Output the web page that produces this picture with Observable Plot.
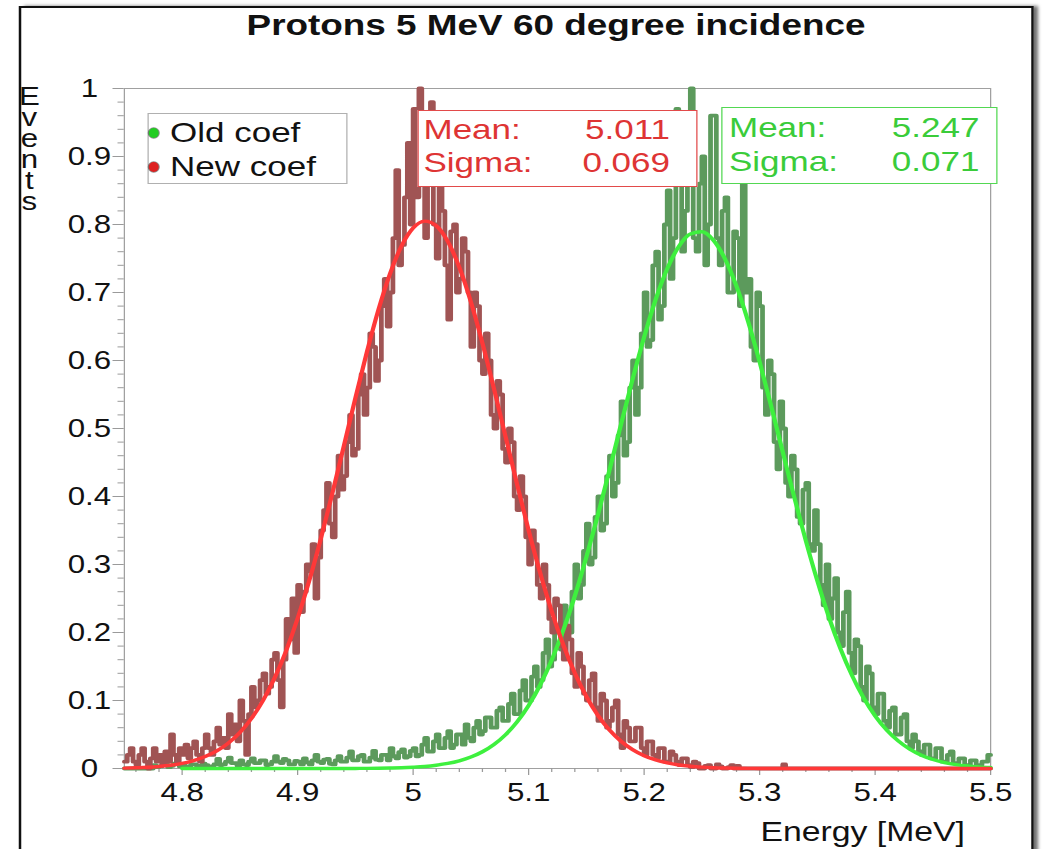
<!DOCTYPE html>
<html><head><meta charset="utf-8">
<script src="https://cdn.jsdelivr.net/npm/d3@7"></script>
<script src="https://cdn.jsdelivr.net/npm/@observablehq/plot@0.6"></script>
<style>
html,body{margin:0;padding:0;background:#fff;overflow:hidden}
#page{position:relative;width:1051px;height:849px;overflow:hidden;background:#fff}
#fig{position:absolute;left:0;top:0;width:841px;height:849px;transform:scaleX(1.25);transform-origin:0 0;font-family:"Liberation Sans",Arial,sans-serif;color:#111}
.t{position:absolute;white-space:nowrap}
#fig svg{position:absolute;left:0;top:0;overflow:visible}
</style></head><body>
<div id="page"><div id="fig"></div></div>
<script>
// ---- data ----
const histStart = 4.75, histBin = 0.0025;
const newCoefCounts = [
0.01,0.02,0.03,0.01,0.005,0.02,0.03,0.01,0.0,0.015,0.03,0.01,0.02,0.005,0.025,0.01,0.05,0.02,0.01,0.03,
0.02,0.035,0.015,0.03,0.04,0.02,0.01,0.03,0.05,0.03,0.02,0.04,0.06,0.035,0.045,0.03,0.08,0.05,0.065,0.04,
0.1,0.07,0.02,0.08,0.12,0.09,0.1,0.13,0.14,0.11,0.12,0.16,0.17,0.13,0.09,0.16,0.22,0.19,0.25,0.17,
0.27,0.23,0.26,0.30,0.29,0.33,0.25,0.31,0.35,0.38,0.42,0.36,0.34,0.40,0.46,0.41,0.43,0.48,0.52,0.46,
0.47,0.55,0.58,0.52,0.56,0.64,0.62,0.57,0.60,0.68,0.72,0.65,0.70,0.78,0.88,0.74,0.77,0.84,0.92,0.80,
0.97,0.84,1.0,0.86,0.78,0.90,0.98,0.80,0.75,0.86,0.82,0.74,0.66,0.79,0.80,0.70,0.72,0.78,0.76,0.70,
0.62,0.70,0.68,0.60,0.58,0.64,0.60,0.52,0.50,0.57,0.55,0.47,0.45,0.50,0.48,0.40,0.38,0.43,0.40,0.34,
0.30,0.35,0.33,0.27,0.25,0.30,0.27,0.22,0.20,0.25,0.24,0.18,0.16,0.21,0.19,0.14,0.12,0.17,0.15,0.11,
0.10,0.13,0.14,0.09,0.07,0.11,0.10,0.06,0.07,0.09,0.10,0.05,0.03,0.07,0.06,0.04,0.04,0.06,0.06,0.03,
0.02,0.04,0.04,0.02,0.015,0.03,0.03,0.01,0.01,0.025,0.02,0.01,0.005,0.015,0.015,0.005,0.002,0.01,0.008,0.0,
0,0.004,0.005,0,0,0.006,0.003,0,0,0.002,0.005,0,0.004,0,0,0,0,0,0,0,
0,0,0,0,0,0,0,0,0.006,0,0,0,0,0,0,0,0,0,0,0,
0,0,0,0,0,0,0,0,0,0,0,0,0,0,0,0,0,0,0,0,
0,0,0,0,0,0,0,0,0,0,0,0,0,0,0,0,0,0,0,0,
0,0,0,0,0,0,0,0,0,0,0,0,0,0,0,0,0,0,0,0];
const oldCoefCounts = [
0,0,0,0,0,0,0,0,0.002,0,0.005,0.002,0.003,0.006,0.006,0.002,0.004,0.007,0.008,0.003,
0.005,0.002,0.003,0.006,0.006,0.003,0.004,0.007,0.005,0.002,0.003,0.006,0.014,0.005,0.006,0.01,0.016,0.008,0.008,0.004,
0.012,0.006,0.005,0.01,0.015,0.008,0.008,0.012,0.012,0.005,0.006,0.01,0.018,0.01,0.008,0.014,0.012,0.006,0.006,0.011,
0.010,0.006,0.015,0.009,0.006,0.012,0.020,0.01,0.008,0.013,0.014,0.007,0.006,0.012,0.018,0.01,0.010,0.016,0.025,0.012,
0.012,0.018,0.020,0.01,0.010,0.016,0.026,0.013,0.012,0.02,0.020,0.012,0.030,0.018,0.015,0.024,0.028,0.016,0.018,0.026,
0.030,0.018,0.020,0.035,0.045,0.025,0.025,0.04,0.050,0.03,0.030,0.045,0.055,0.03,0.035,0.05,0.050,0.035,0.065,0.045,
0.040,0.06,0.070,0.05,0.055,0.075,0.075,0.06,0.060,0.085,0.090,0.07,0.070,0.095,0.110,0.08,0.080,0.115,0.130,0.10,
0.100,0.135,0.150,0.12,0.130,0.17,0.190,0.15,0.160,0.20,0.210,0.175,0.240,0.20,0.200,0.26,0.300,0.25,0.270,0.32,
0.360,0.30,0.310,0.37,0.400,0.35,0.360,0.43,0.460,0.40,0.420,0.49,0.540,0.46,0.480,0.56,0.600,0.52,0.560,0.64,
0.700,0.62,0.630,0.74,0.760,0.66,0.680,0.80,0.850,0.72,0.780,0.97,0.950,0.76,0.820,0.90,1.000,0.78,0.760,0.86,
0.900,0.74,0.800,0.96,0.960,0.78,0.740,0.82,0.840,0.70,0.700,0.79,0.780,0.68,0.880,0.70,0.720,0.62,0.600,0.70,
0.680,0.56,0.520,0.60,0.580,0.48,0.440,0.54,0.500,0.42,0.400,0.46,0.440,0.37,0.360,0.41,0.420,0.33,0.320,0.38,
0.330,0.27,0.240,0.30,0.220,0.25,0.280,0.20,0.180,0.23,0.260,0.17,0.140,0.19,0.180,0.12,0.100,0.15,0.140,0.09,
0.080,0.11,0.110,0.07,0.060,0.085,0.090,0.05,0.050,0.075,0.080,0.04,0.030,0.05,0.040,0.025,0.020,0.035,0.035,0.015,
0.015,0.03,0.030,0.01,0.010,0.02,0.025,0.008,0.008,0.015,0.015,0.005,0.005,0.012,0.012,0.004,0.005,0.01,0.010,0.02];
const fitStep = 0.01;
const newFitStart = 4.75;
const newFitValues = [
0.0006,0.0011,0.0018,0.0030,0.0048,0.0075,0.0116,0.0175,0.0258,0.0373,
0.0529,0.0735,0.0998,0.1328,0.1729,0.2207,0.2758,0.3373,0.4041,0.4741,
0.5446,0.6126,0.6748,0.7277,0.7686,0.7948,0.8050,0.7982,0.7751,0.7370,
0.6862,0.6257,0.5585,0.4883,0.4180,0.3503,0.2876,0.2311,0.1819,0.1402,
0.1059,0.0782,0.0566,0.0401,0.0278,0.0189,0.0126,0.0082,0.0052,0.0033,
0.0020,0.0012,0.0007,0.0004,0.0002,0.0001,
0,0,0,0,0,0,0,0,0,0,0,0,0,0,0,0,0,0,0,0];
const oldFitStart = 4.80;
const oldFitValues = [
0,0,0,0,0,0,0,0,0,0,0,0,0,0,0,
0.0001,0.0002,0.0004,0.0007,0.0011,0.0019,0.0030,0.0048,0.0074,0.0113,
0.0168,0.0246,0.0353,0.0497,0.0685,0.0927,0.1228,0.1595,0.2032,0.2537,
0.3107,0.3730,0.4387,0.5061,0.5724,0.6345,0.6897,0.7349,0.7677,0.7861,
0.7893,0.7769,0.7496,0.7091,0.6576,0.5979,0.5329,0.4656,0.3989,0.3349,
0.2758,0.2225,0.1762,0.1368,0.1040,0.0775,0.0566,0.0406,0.0285,0.0196,
0.0133,0.0088,0.0057,0.0036,0.0023,0.0014];
const seriesNames = ["Old coef", "New coef"];
const stats = [
  {name: "New coef", mean: "5.011", sigma: "0.069"},
  {name: "Old coef", mean: "5.247", sigma: "0.071"}
];
const xMajorTicks = [4.8, 4.9, 5, 5.1, 5.2, 5.3, 5.4, 5.5];
const yMajorTicks = [0, 0.1, 0.2, 0.3, 0.4, 0.5, 0.6, 0.7, 0.8, 0.9, 1];
const titleText = "Protons 5 MeV 60 degree incidence";
const xTitle = "Energy [MeV]";
const yTitle = "Events";

// ---- build tables ----
const r4 = v => Math.round(v * 10000) / 10000;
function histRows(counts) {
  const rows = counts.map((c, i) => ({x: r4(histStart + i * histBin), y: c}));
  rows.push({x: 5.5, y: counts[counts.length - 1]});
  return rows;
}
function fitRows(start, vals) {
  return vals.map((v, i) => ({x: r4(start + i * fitStep), y: v}));
}
const xMinorTicks = d3.range(4.76, 5.4999, 0.02).map(r4).filter(v => !xMajorTicks.some(m => Math.abs(m - v) < 1e-6));
const yMinorTicks = d3.range(0.02, 0.999, 0.02).map(r4).filter(v => !yMajorTicks.some(m => Math.abs(m - v) < 1e-6));
const fmt = d => String(Math.round(d * 10) / 10);

const C = {newHist: "#a05454", oldHist: "#5c9a5c", newFit: "#ff3838", oldFit: "#3ef03e",
           newText: "#de3434", oldText: "#3acc3a"};

const chart = Plot.plot({
  width: 841, height: 849,
  marginLeft: 99, marginRight: 49, marginTop: 88, marginBottom: 81,
  style: {fontFamily: "Liberation Sans, Arial, sans-serif", background: "transparent", overflow: "visible", color: "#111"},
  x: {domain: [4.75, 5.5], label: null},
  y: {domain: [0, 1], label: null},
  marks: [
    Plot.frame({stroke: "#a0a0a0", strokeWidth: 1}),
    Plot.axisY(yMinorTicks, {tickSize: 5, tickFormat: () => "", stroke: "#9a9a9a", label: null}),
    Plot.axisY(yMajorTicks, {tickSize: 9, tickPadding: 19, textAnchor: "middle", tickFormat: fmt, fontSize: 25, stroke: "#9a9a9a", fill: "#111", label: null}),
    Plot.axisX(xMinorTicks, {tickSize: 4, tickFormat: () => "", stroke: "#9a9a9a", label: null}),
    Plot.axisX(xMajorTicks, {tickSize: 7, tickPadding: 8, tickFormat: fmt, fontSize: 25, stroke: "#9a9a9a", fill: "#111", label: null}),
    Plot.line(histRows(oldCoefCounts), {x: "x", y: "y", curve: "step-after", stroke: C.oldHist, strokeWidth: 3.8}),
    Plot.line(histRows(newCoefCounts), {x: "x", y: "y", curve: "step-after", stroke: C.newHist, strokeWidth: 3.8}),
    Plot.line(fitRows(oldFitStart, oldFitValues), {x: "x", y: "y", curve: "monotone-x", stroke: C.oldFit, strokeWidth: 3.4}),
    Plot.line(fitRows(newFitStart, newFitValues), {x: "x", y: "y", curve: "monotone-x", stroke: C.newFit, strokeWidth: 3.4})
  ]
});
const fig = document.getElementById("fig");

// outer canvas border
const border = document.createElement("div");
border.style.cssText = "position:absolute;left:15.2px;top:6px;width:812px;height:900px;border:2px solid #111;box-sizing:border-box;box-shadow:4px 0 3px rgba(0,0,0,0.55);background:#fff";
fig.appendChild(border);
fig.appendChild(chart);

function text(str, x, baseline, size, opts = {}) {
  const d = document.createElement("div");
  d.className = "t";
  d.textContent = str;
  d.style.fontSize = size + "px";
  d.style.lineHeight = size + "px";
  d.style.top = (baseline - 0.8465 * size) + "px";
  if (opts.anchor === "end") { d.style.right = (841 - x) + "px"; }
  else if (opts.anchor === "middle") { d.style.left = x + "px"; d.style.transform = "translateX(-50%)"; }
  else { d.style.left = x + "px"; }
  if (opts.bold) d.style.fontWeight = "bold";
  if (opts.color) d.style.color = opts.color;
  fig.appendChild(d);
  return d;
}
function box(x, y, w, h, css) {
  const d = document.createElement("div");
  d.style.cssText = `position:absolute;left:${x}px;top:${y}px;width:${w}px;height:${h}px;box-sizing:border-box;background:#fff;${css}`;
  fig.appendChild(d);
  return d;
}

// title
text(titleText, 444.8, 35, 29.5, {anchor: "middle", bold: true});

// vertical stacked y title (one text, upright letters)
const yt = document.createElement("div");
yt.className = "t";
yt.textContent = yTitle;
yt.style.cssText += ";writing-mode:vertical-lr;text-orientation:upright;font-size:25px;line-height:25px;letter-spacing:-7px;left:10.5px;top:82px";
fig.appendChild(yt);

// x title
text(xTitle, 772, 842, 27, {anchor: "end"});

// legend
box(118.4, 113, 160, 71, "border:1px solid #b0b0b0;");
const legendColors = {"Old coef": "#22cc22", "New coef": "#dd2020"};
seriesNames.forEach((name, i) => {
  const cy = [132.5, 167][i];
  const dot = document.createElement("div");
  dot.style.cssText = `position:absolute;left:${118.8}px;top:${cy - 5}px;width:8px;height:10px;border-radius:50%;background:${legendColors[name]};box-shadow:0 0 0 0.8px rgba(60,60,60,0.6)`;
  fig.appendChild(dot);
  text(name, 136, [143, 177][i], 28);
});

// stat boxes
const boxGeom = [
  {left: 334.4, top: 109.5, w: 223.2, h: 77, mx: 338.8, vx: 536, b1: 140, b2: 173, col: C.newText, bc: "#e24a4a"},
  {left: 577.3, top: 107, w: 220.8, h: 77, mx: 583.2, vx: 783.5, b1: 138, b2: 172, col: C.oldText, bc: "#52d852"}
];
stats.forEach((s, i) => {
  const g = boxGeom[i];
  box(g.left, g.top, g.w, g.h, `border:1.5px solid ${g.bc};`);
  text("Mean:", g.mx, g.b1, 28, {color: g.col});
  text("Sigma:", g.mx, g.b2, 28, {color: g.col});
  text(s.mean, g.vx, g.b1, 28, {color: g.col, anchor: "end"});
  text(s.sigma, g.vx, g.b2, 28, {color: g.col, anchor: "end"});
});
</script>
</body></html>
